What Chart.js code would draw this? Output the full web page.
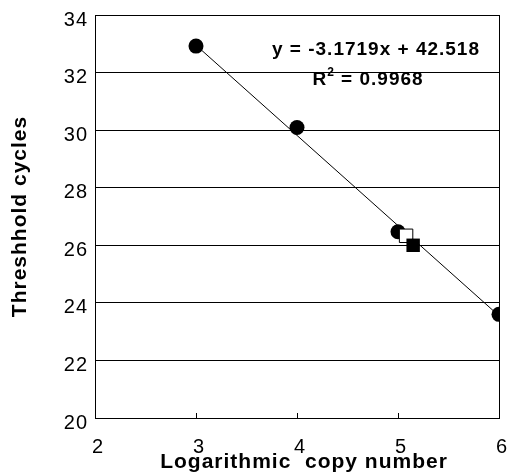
<!DOCTYPE html>
<html>
<head>
<meta charset="utf-8">
<script src="https://cdn.jsdelivr.net/npm/chart.js@4/dist/chart.umd.min.js"></script>
<style>
html,body{margin:0;padding:0;background:#fff;}
#wrap{width:510px;height:475px;}
</style>
</head>
<body>
<div id="wrap"><canvas id="c" width="510" height="475"></canvas></div>
<script>
const xStd = [3, 4, 5, 6];
const yStd = [32.92, 30.09, 26.47, 23.6];
const xOpen = [5.08];
const yOpen = [26.33];
const xFilled = [5.15];
const yFilled = [26.0];
const xTrend = [3, 6];
const yTrend = [32.95, 23.55];
const xTicks = [2, 3, 4, 5, 6];
const yTicks = [20, 22, 24, 26, 28, 30, 32, 34];
const xTitle = 'Logarithmic  copy number';
const yTitle = 'Threshhold cycles';
const equationText = 'y = -3.1719x + 42.518';
const r2Label = 'R';
const r2Value = ' = 0.9968';

const FONT = '"Liberation Sans", Arial, sans-serif';
const pts = (xs, ys) => xs.map((x, i) => ({x: x, y: ys[i]}));

const framePlugin = {
  id: 'frame',
  beforeDraw(chart) {
    chart.ctx.letterSpacing = '1px';
  },
  afterDatasetsDraw(chart) {
    const ctx = chart.ctx, a = chart.chartArea;
    const xs = chart.scales.x;
    ctx.save();
    ctx.letterSpacing = '1px';
    ctx.strokeStyle = '#000';
    ctx.lineWidth = 1;
    ctx.strokeRect(Math.round(a.left) + 0.5, Math.round(a.top) + 0.5, Math.round(a.right - a.left), Math.round(a.bottom - a.top));
    // inward x ticks
    xTicks.forEach(v => {
      const px = Math.round(xs.getPixelForValue(v)) + 0.5;
      ctx.beginPath();
      ctx.moveTo(px, a.bottom);
      ctx.lineTo(px, a.bottom - 5);
      ctx.stroke();
    });
    ctx.fillStyle = '#000';
    // x title
    ctx.font = 'bold 21px ' + FONT;
    ctx.textAlign = 'center';
    ctx.textBaseline = 'middle';
    ctx.fillText(xTitle, 304, 462);
    // equation
    ctx.font = 'bold 19px ' + FONT;
    ctx.fillText(equationText, 376, 50);
    const wR = ctx.measureText(r2Label).width;
    const wV = ctx.measureText(r2Value).width;
    ctx.font = 'bold 12px ' + FONT;
    const wS = ctx.measureText('2').width;
    const total = wR + wS + wV;
    let x0 = 368 - total / 2;
    ctx.textAlign = 'left';
    ctx.font = 'bold 19px ' + FONT;
    ctx.fillText(r2Label, x0, 80);
    ctx.font = 'bold 12px ' + FONT;
    ctx.fillText('2', x0 + wR, 73);
    ctx.font = 'bold 19px ' + FONT;
    ctx.fillText(r2Value, x0 + wR + wS, 80);
    ctx.restore();
  }
};

new Chart(document.getElementById('c'), {
  type: 'scatter',
  data: {
    datasets: [
      {
        label: 'trend',
        type: 'line',
        data: pts(xTrend, yTrend),
        borderColor: '#000',
        borderWidth: 1,
        pointRadius: 0,
        fill: false,
        order: 5
      },
      {
        label: 'standards',
        data: pts(xStd, yStd),
        pointStyle: 'circle',
        pointRadius: 7.5,
        backgroundColor: '#000',
        borderColor: '#000',
        borderWidth: 0,
        order: 4
      },
      {
        label: 'open',
        data: pts(xOpen, yOpen),
        pointStyle: 'rect',
        pointRadius: 9.5,
        backgroundColor: '#fff',
        borderColor: '#000',
        borderWidth: 1,
        order: 3
      },
      {
        label: 'filled',
        data: pts(xFilled, yFilled),
        pointStyle: 'rect',
        pointRadius: 9.5,
        backgroundColor: '#000',
        borderColor: '#000',
        borderWidth: 0,
        order: 2
      }
    ]
  },
  options: {
    responsive: false,
    animation: false,
    events: [],
    layout: {padding: {left: 0, right: 11, top: 15, bottom: 0}},
    plugins: {legend: {display: false}, tooltip: {enabled: false}},
    scales: {
      x: {
        type: 'linear',
        min: 2, max: 6,
        afterBuildTicks: s => { s.ticks = xTicks.map(v => ({value: v})); },
        afterFit: s => { s.height = 57; s.paddingLeft = 0; s.paddingRight = 0; },
        grid: {display: false, drawTicks: false},
        border: {display: false},
        ticks: {color: '#000', padding: 17, labelOffset: 3, font: {family: FONT, size: 20}, maxRotation: 0},
        title: {display: false}
      },
      y: {
        type: 'linear',
        min: 20, max: 34,
        afterBuildTicks: s => { s.ticks = yTicks.map(v => ({value: v})); },
        afterFit: s => { s.width = 95; s.paddingTop = 0; s.paddingBottom = 0; },
        grid: {color: '#000', lineWidth: 1, drawTicks: false},
        border: {display: false},
        ticks: {color: '#000', padding: 7, labelOffset: 5, font: {family: FONT, size: 20}},
        title: {display: true, text: yTitle, color: '#000', padding: {top: 8, bottom: 0},
                font: {family: FONT, size: 21, weight: 'bold'}}
      }
    }
  },
  plugins: [framePlugin]
});
</script>
</body>
</html>
